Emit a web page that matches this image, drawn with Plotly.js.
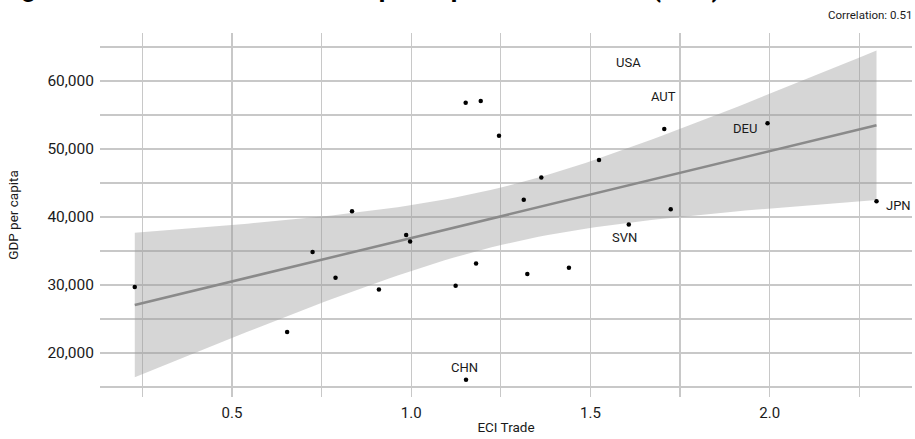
<!DOCTYPE html>
<html>
<head>
<meta charset="utf-8">
<script src="https://cdn.plot.ly/plotly-3.0.1.min.js"></script>
<style>html,body{margin:0;padding:0;background:#fff;}#chart{width:915px;height:439px;}</style>
</head>
<body>
<div id="chart"></div>
<script>
// ECI Trade (x) and GDP per capita (y)
const eciTrade = [0.229, 0.654, 0.725, 0.789, 0.835, 0.910, 0.986, 0.997, 1.124, 1.152, 1.153, 1.181, 1.194, 1.245, 1.314, 1.324, 1.363, 1.440, 1.524, 1.605, 1.607, 1.706, 1.724, 1.994, 2.298];
const gdpPerCapita = [29700, 23100, 34850, 31050, 40850, 29350, 37350, 36400, 29900, 56800, 16050, 33150, 57050, 51950, 42550, 31600, 45800, 32550, 48400, 62650, 38900, 52950, 41150, 53800, 42300];
const countryCodes = ["", "", "", "", "", "", "", "", "", "", "CHN", "", "", "", "", "", "", "", "", "USA", "SVN", "AUT", "", "DEU", "JPN"];
const correlationText = "Correlation: 0.51";
const titleText = "Figure 1: ECI Trade and the GDP per capita in 2017 USD (PPP)";
const xTickVals = [0.5, 1.0, 1.5, 2.0];
const yTickVals = [20000, 30000, 40000, 50000, 60000];

const FONT = "Roboto, 'Liberation Sans', sans-serif";

// linear fit with 95% confidence band
const n = eciTrade.length;
const mx = eciTrade.reduce((a, b) => a + b, 0) / n;
const my = gdpPerCapita.reduce((a, b) => a + b, 0) / n;
let sxx = 0, sxy = 0;
for (let i = 0; i < n; i++) { sxx += (eciTrade[i] - mx) ** 2; sxy += (eciTrade[i] - mx) * (gdpPerCapita[i] - my); }
const slope = sxy / sxx, intercept = my - slope * mx;
let sse = 0;
for (let i = 0; i < n; i++) { sse += (gdpPerCapita[i] - intercept - slope * eciTrade[i]) ** 2; }
const s = Math.sqrt(sse / (n - 2));
const tcrit = 2.069;
const xmin = Math.min(...eciTrade), xmax = Math.max(...eciTrade);
const gx = [], gy = [], gu = [], gl = [];
for (let k = 0; k < 80; k++) {
  const x = xmin + (xmax - xmin) * k / 79;
  const f = intercept + slope * x;
  const se = s * Math.sqrt(1 / n + (x - mx) ** 2 / sxx);
  gx.push(x); gy.push(f); gu.push(f + tcrit * se); gl.push(f - tcrit * se);
}

const traces = [
  {x: gx.concat(gx.slice().reverse()), y: gu.concat(gl.slice().reverse()), type: 'scatter', mode: 'lines',
   fill: 'toself', fillcolor: 'rgba(153,153,153,0.4)', line: {width: 0}, hoverinfo: 'skip', showlegend: false},
  {x: gx, y: gy, type: 'scatter', mode: 'lines', line: {color: '#8a8a8a', width: 2.5}, showlegend: false},
  {x: eciTrade, y: gdpPerCapita, type: 'scatter', mode: 'markers', marker: {color: '#000', size: 4.5}, showlegend: false}
];

const offsets = {CHN: {xanchor: 'center', xshift: -2, yshift: 12}, SVN: {xanchor: 'center', xshift: -4, yshift: -13},
  AUT: {xanchor: 'center', xshift: -1, yshift: 32}, DEU: {xanchor: 'right', xshift: -9, yshift: -5},
  JPN: {xanchor: 'left', xshift: 7, yshift: -4}, USA: {xanchor: 'center', xshift: 0, yshift: 0}};
const annotations = [];
countryCodes.forEach((c, i) => {
  if (!c) return;
  const o = offsets[c];
  annotations.push({x: eciTrade[i], y: gdpPerCapita[i], text: c, showarrow: false, xanchor: o.xanchor, yanchor: 'middle',
    xshift: o.xshift, yshift: o.yshift, bgcolor: c === 'USA' ? '#fff' : 'rgba(0,0,0,0)',
    font: {family: FONT, size: 13, color: '#1a1a1a'}});
});
annotations.push({xref: 'paper', yref: 'paper', x: 1.003, y: 1.0, yshift: 18, text: correlationText, showarrow: false,
  xanchor: 'right', yanchor: 'middle', font: {family: FONT, size: 11.5, color: '#1a1a1a'}});
annotations.push({xref: 'paper', yref: 'paper', x: 0, xshift: -102, y: 1.0, yshift: 45, text: '<b>' + titleText + '</b>',
  showarrow: false, xanchor: 'left', yanchor: 'middle', font: {family: FONT, size: 26, color: '#000'}});

const layout = {
  width: 915, height: 439,
  margin: {l: 100, r: 3, t: 33, b: 42},
  paper_bgcolor: '#fff', plot_bgcolor: '#fff',
  xaxis: {range: [0.132, 2.397], tickvals: xTickVals, ticktext: xTickVals.map(v => v.toFixed(1)), showgrid: true,
    gridcolor: '#c8c8c8', gridwidth: 1.2, zeroline: false, showline: false, ticks: '', ticklabelstandoff: 5,
    minor: {tickvals: [0.25, 0.75, 1.25, 1.75, 2.25], showgrid: true, gridcolor: '#c8c8c8', gridwidth: 1.2},
    tickfont: {family: FONT, size: 15, color: '#1a1a1a'},
    title: {text: 'ECI Trade', standoff: 1, font: {family: FONT, size: 13.5, color: '#1a1a1a'}}},
  yaxis: {range: [13529, 67059], tickvals: yTickVals, ticktext: yTickVals.map(v => v.toLocaleString('en-US')), showgrid: true,
    gridcolor: '#c8c8c8', gridwidth: 1.2, zeroline: false, showline: false, ticks: '', ticklabelstandoff: 5,
    minor: {tickvals: [15000, 25000, 35000, 45000, 55000, 65000], showgrid: true, gridcolor: '#c8c8c8', gridwidth: 1.2},
    tickfont: {family: FONT, size: 15.5, color: '#1a1a1a'},
    title: {text: 'GDP per capita', standoff: 25, font: {family: FONT, size: 13.5, color: '#1a1a1a'}}},
  annotations: annotations
};
Plotly.newPlot('chart', traces, layout, {displayModeBar: false, staticPlot: true});
</script>
</body>
</html>
